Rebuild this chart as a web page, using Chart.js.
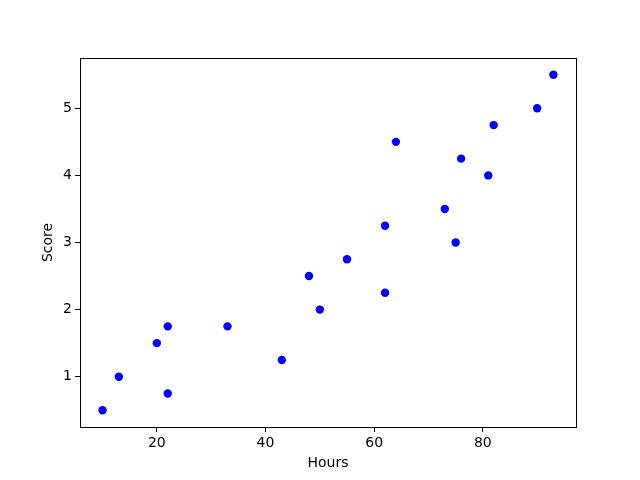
<!DOCTYPE html>
<html>
<head>
<meta charset="utf-8">
<script src="https://cdn.jsdelivr.net/npm/chart.js@4/dist/chart.umd.min.js"></script>
<style>
html,body{margin:0;padding:0;background:#fff;}
#c{display:block;}
</style>
</head>
<body>
<canvas id="c" width="640" height="480"></canvas>
<script>
const hours  = [10, 13, 22, 20, 22, 33, 43, 48, 50, 55, 62, 62, 64, 73, 75, 76, 81, 82, 90, 93];
const scores = [0.5, 1.0, 0.75, 1.5, 1.75, 1.75, 1.25, 2.5, 2.0, 2.75, 2.25, 3.25, 4.5, 3.5, 3.0, 4.25, 4.0, 4.75, 5.0, 5.5];
const xTicks = [20, 40, 60, 80];
const yTicks = [1, 2, 3, 4, 5];
const xLabel = 'Hours';
const yLabel = 'Score';

const points = hours.map((h, i) => ({x: h, y: scores[i]}));
const xr = Math.max(...hours) - Math.min(...hours);
const yr = Math.max(...scores) - Math.min(...scores);

const frame = {
  id: 'frame',
  afterDraw(chart) {
    const {ctx, chartArea: a} = chart;
    ctx.save();
    ctx.strokeStyle = '#000';
    ctx.lineWidth = 1;
    ctx.strokeRect(Math.round(a.left) + 0.5, Math.round(a.top) + 0.5, Math.round(a.right - a.left), Math.round(a.bottom - a.top));
    ctx.restore();
  }
};

const font = {family: 'DejaVu Sans', size: 14};

new Chart(document.getElementById('c'), {
  type: 'scatter',
  data: {
    datasets: [{
      data: points,
      backgroundColor: '#0000ff',
      borderColor: '#0000ff',
      pointRadius: 4.2,
      pointHoverRadius: 4.2,
      borderWidth: 0
    }]
  },
  options: {
    responsive: false,
    animation: false,
    devicePixelRatio: 1,
    layout: {padding: {top: 58, right: 64, left: 0, bottom: 0}},
    plugins: {legend: {display: false}, tooltip: {enabled: false}},
    scales: {
      x: {
        type: 'linear',
        min: Math.min(...hours) - 0.05 * xr,
        max: Math.max(...hours) + 0.05 * xr,
        afterBuildTicks: s => { s.ticks = xTicks.map(v => ({value: v})); },
        afterFit: s => { s.height = 53; },
        grid: {drawOnChartArea: false, drawTicks: true, tickLength: 5, color: '#000', tickWidth: 1},
        border: {display: true, color: '#000'},
        ticks: {color: '#000', font: font, padding: 3, maxRotation: 0},
        title: {display: true, text: xLabel, color: '#000', font: font, padding: {top: 0, bottom: 8.6}}
      },
      y: {
        type: 'linear',
        min: Math.min(...scores) - 0.05 * yr,
        max: Math.max(...scores) + 0.05 * yr,
        afterBuildTicks: s => { s.ticks = yTicks.map(v => ({value: v})); },
        afterFit: s => { s.width = 80; },
        grid: {drawOnChartArea: false, drawTicks: true, tickLength: 5, color: '#000', tickWidth: 1},
        border: {display: true, color: '#000'},
        ticks: {color: '#000', font: font, padding: 3},
        title: {display: true, text: yLabel, color: '#000', font: font, padding: {top: 39.6, bottom: 0}}
      }
    }
  },
  plugins: [frame]
});
</script>
</body>
</html>
